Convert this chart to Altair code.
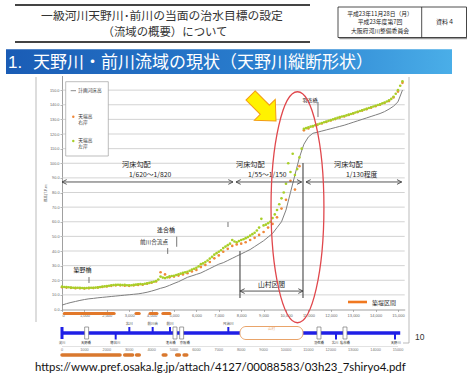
import altair as alt
import pandas as pd

JP = "Noto Sans CJK JP"
LAT = "Liberation Sans"

# ---------------- data ----------------
# survey stations, distance from the Yodo river confluence (m)
station_100m = list(range(0, 15201, 100))
station_200m = list(range(0, 15201, 200))

# 天端高 左岸 (levee crown, left bank)
left_bank_crown = [
    15.6, 15.4, 15.3, 15.2, 15.0, 14.9, 14.8, 14.9, 14.8, 14.7, 14.6,
    14.7, 14.8, 14.9, 14.8, 15.0, 15.1, 15.3, 15.6, 15.8, 16.0,
    16.2, 16.5, 16.7, 16.8, 16.9, 16.8, 16.7, 16.8, 16.6, 16.5,
    16.6, 16.8, 17.0, 17.2, 17.4, 17.3, 17.6, 17.9, 18.2, 18.6,
    19.0, 19.5, 20.5, 22.5, 21.8, 21.5, 22.0, 22.6, 22.9, 23.1,
    23.6, 24.0, 24.5, 25.0, 25.4, 25.8, 26.5, 27.3, 27.8, 28.5,
    29.5, 31.0, 31.5, 32.5, 33.5, 34.8, 36.0, 37.5, 38.5, 39.5,
    40.5, 42.0, 43.0, 44.0, 45.0, 47.5, 46.5, 46.0, 46.8, 47.5,
    48.0, 48.8, 49.5, 50.5, 51.5, 52.5, 54.0, 56.0, 62.0, 57.5,
    58.0, 59.0, 60.0, 62.5, 65.0, 68.0, 72.0, 76.0, 80.0, 86.0,
    100.0, 94.0, 106.5, 92.0, 96.0, 104.0, 110.0, 123.5, 124.0, 124.5,
    125.0, 125.5, 126.0, 126.5, 127.0, 127.5, 128.0, 128.5, 129.0, 129.5,
    130.0, 130.5, 131.0, 131.5, 132.0, 132.3, 132.7, 133.2, 133.7, 134.2,
    134.7, 135.2, 135.7, 136.2, 136.7, 137.2, 137.8, 138.3, 138.8, 139.3,
    139.8, 140.3, 140.9, 141.5, 142.2, 143.0, 144.0, 145.5, 147.5, 150.0,
    153.0, 156.0,
]

# 天端高 右岸 (levee crown, right bank)
right_bank_crown = [
    15.2, 15.0, 14.8, 14.6, 14.5, 14.4, 14.6, 14.7, 15.0, 15.4,
    15.8, 16.2, 16.5, 16.5, 16.3, 16.2, 16.5, 16.8, 17.0, 17.6,
    18.3, 19.2, 25.5, 24.0, 22.0, 22.5, 23.2, 24.0, 24.8, 26.0,
    27.0, 29.0, 30.5, 32.5, 35.0, 37.0, 39.5, 41.5, 43.5, 44.5,
    45.0, 46.0, 47.5, 49.0, 51.0, 53.0, 56.0, 58.5, 63.0, 69.0,
    75.0, 88.0, 82.0, 98.0, 122.5, 123.8, 125.2, 126.2, 127.2, 128.2,
    129.2, 130.2, 131.2, 132.0, 133.0, 134.0, 135.0, 136.0, 137.0, 138.0,
    139.0, 140.0, 141.2, 142.5, 145.0, 149.0, 155.0,
]

# 計画河床高 (planned river-bed elevation)
planned_bed = [
    3.0, 4.0, 4.8, 5.5, 6.2, 6.8, 7.3, 7.6, 8.0, 8.3,
    8.6, 8.9, 9.2, 9.5, 9.8, 10.1, 10.4, 10.7, 11.2, 11.8,
    12.6, 13.5, 14.5, 15.3, 16.5, 17.8, 19.0, 20.5, 22.0, 23.0,
    24.0, 25.0, 26.5, 28.0, 29.5, 31.0, 32.0, 33.5, 35.0, 36.5,
    38.0, 39.5, 41.0, 43.0, 45.0, 47.0, 49.5, 52.0, 56.0, 60.0,
    68.0, 80.0, 92.0, 104.0, 113.0, 118.0, 120.5, 121.2, 122.0, 122.8,
    123.6, 124.4, 125.2, 126.0, 127.0, 128.0, 129.0, 130.0, 131.0, 132.0,
    133.0, 134.0, 135.3, 137.0, 139.0, 142.0, 150.0,
]

y_ticks = [0, 10, 20, 30, 40, 50, 60, 70, 80, 90, 100, 110, 120, 130, 140, 150]
x_ticks = [0, 1000, 2000, 3000, 4000, 5000, 6000, 7000, 8000, 9000,
           10000, 11000, 12000, 13000, 14000, 15000]

# 築堤区間 (levee sections) along the main axis and along the schematic
levee_main_from = [100, 3300, 3930, 4100, 4500]
levee_main_to = [2330, 3450, 4060, 4240, 4820]
levee_sub_from = [0, 2800, 3330, 4520, 5120, 5450]
levee_sub_to = [2590, 3150, 3450, 4640, 5240, 5570]

# 河床勾配 zones
zone_from = [0, 7768, 10893]
zone_to = [7634, 10700, 15165]
zone_title = ["河床勾配", "河床勾配", "河床勾配"]
zone_slope = ["1/620～1/820", "1/55～1/150", "1/130程度"]
zone_title_x = [2679, 7768, 12143]
zone_slope_x = [2991, 8304, 12679]
zone_title_elev = 98.8
zone_slope_elev = 92.0
zone_arrow_elev = 87.2

# 山村区間
sanson_from = [7946]
sanson_to = [10759]
sanson_line_top = [40.0, 100.2]
sanson_line_x = [7946, 10759]
sanson_line_bottom = 7.9
sanson_arrow_elev = 12.6
sanson_label_elev = 16.8

# landmarks
landmark_name = ["築野橋", "前川合流点", "逢合橋", "羽衣橋"]
landmark_x = [915, 4107, 4643, 11071]
landmark_elev = [27.0, 46.4, 54.4, 143.2]
landmark_size = [6.0, 5.6, 6.0, 5.0]
marker_x = [1205, 4719, 5121, 11429, 7411]
marker_lo = [18.1, 38.0, 42.9, 131.6, 56.4]
marker_hi = [22.2, 42.0, 49.8, 141.9, 59.8]

# highlight marks
ellipse_center = (10513, 69.9)
arrow_center = (8987, 137.6)

# schematic of the river
channel_from = [0]
channel_to = [15100]
trib_up_x = [3006, 4048, 4821, 7426]
trib_up_name = ["北川", "前川合", "前川", "尺治川"]
trib_down_x = [2397, 12232, 14866]
bridge_x = [1100, 5045, 5342, 11473, 12634]
lower_label_x = [0, 1070, 2380, 4850, 5480, 11470, 12190, 12630, 14900]
lower_label = ["淀川", "天野橋", "穂谷川", "逢合橋", "京阪橋", "羽衣橋", "北川", "私市橋", "天野川"]

title1 = "一級河川天野川･前川の当面の治水目標の設定"
title2 = "（流域の概要）について"
box_lines = ["平成23年11月28日（月）", "平成23年度第7回", "大阪府河川整備委員会"]
box_right = "資料４"
banner_num = "1."
banner_text = "天野川・前川流域の現状（天野川縦断形状）"
url_text = "https://www.pref.osaka.lg.jp/attach/4127/00088583/03h23_7shiryo4.pdf"
page_no = "10"

# ---------------- scales & axes ----------------
xs = alt.Scale(domain=[0, 15300], range=[62, 404.7], nice=False, zero=False)
ys = alt.Scale(domain=[0, 160], range=[309.5, 75.5], nice=False, zero=False)
x_axis = alt.Axis(values=x_ticks, title=None, labelFontSize=4, labelColor="#666",
                  labelFont=LAT, domainColor="#888", domainWidth=0.8, tickColor="#888",
                  tickSize=2, tickWidth=0.6, labelPadding=2, offset=-67.5, grid=False)
y_axis = alt.Axis(values=y_ticks, format=".1f", title="標高(T.P.m)", titleFont=JP,
                  titleFontSize=3.6, titleFontWeight="normal", titleColor="#666",
                  titlePadding=2, labelFontSize=3.8, labelColor="#666", labelFont=LAT,
                  domainColor="#888", domainWidth=0.8, tickColor="#888", tickSize=2,
                  tickWidth=0.6, labelPadding=1, offset=-62, grid=False)


def X(f):
    return alt.X(f"{f}:Q", scale=xs, axis=x_axis)


def Y(f):
    return alt.Y(f"{f}:Q", scale=ys, axis=y_axis)


ONE = pd.DataFrame({"k": [0]})


def ptext(t, x, y, size, color="#222", align="center", font=JP, weight="normal"):
    return alt.Chart(ONE).mark_text(text=t, fontSize=size, color=color, align=align,
                                    baseline="middle", font=font, fontWeight=weight
                                    ).encode(x=alt.value(x), y=alt.value(y))


def hline(x1, x2, y, color="#333", w=1.0, cap="butt"):
    return alt.Chart(ONE).mark_rule(color=color, strokeWidth=w, strokeCap=cap).encode(
        x=alt.value(x1), x2=alt.value(x2), y=alt.value(y))


def vline(x, y1, y2, color="#333", w=1.0):
    return alt.Chart(ONE).mark_rule(color=color, strokeWidth=w).encode(
        x=alt.value(x), y=alt.value(y1), y2=alt.value(y2))


def prect(x1, x2, y1, y2, fill="white", stroke="#333", w=0.8, **kw):
    return alt.Chart(ONE).mark_rect(fill=fill, stroke=stroke, strokeWidth=w, **kw).encode(
        x=alt.value(x1), x2=alt.value(x2), y=alt.value(y1), y2=alt.value(y2))


layers = []

# ---------------- slide header ----------------
layers += [
    hline(15, 310, 5, "#444", 1.8),
    hline(15, 310, 42, "#444", 1.8),
    ptext(title1, 162, 16, 11.8, "#333"),
    ptext(title2, 165, 33, 11.4, "#333"),
    prect(339.5, 468, 8.5, 39, fill="#9a9a9a", stroke="#9a9a9a", w=0.5),
    prect(338, 466.5, 7, 37.5, fill="white", stroke="#222", w=0.8),
    vline(421.7, 7, 37.5, "#222", 0.8),
    ptext(box_lines[0], 380, 14.2, 5.8, "#222"),
    ptext(box_lines[1], 380, 22.4, 5.8, "#222"),
    ptext(box_lines[2], 380, 30.6, 5.8, "#222"),
    ptext(box_right, 445, 22.4, 6, "#222"),
]

grad = alt.LinearGradient(
    gradient="linear", x1=0, x2=1, y1=0, y2=0,
    stops=[alt.GradientStop(color="#1a5cb5", offset=0),
           alt.GradientStop(color="#2a7fcf", offset=0.6),
           alt.GradientStop(color="#4aaee8", offset=1)])
layers += [
    alt.Chart(ONE).mark_rect(fill=grad).encode(
        x=alt.value(6), x2=alt.value(452), y=alt.value(49.3), y2=alt.value(74)),
    ptext(banner_num, 8, 62.5, 17, "white", align="left", font=LAT),
    ptext(banner_text, 33, 62.5, 17, "white", align="left"),
]

# outer frame of the figure
layers += [
    vline(36, 77, 322, "#aaa", 0.8),
    vline(409, 77, 343, "#aaa", 0.8),
    hline(403, 409, 343, "#aaa", 0.8),
]

# ---------------- main profile chart ----------------
grid_df = pd.DataFrame({"g": y_ticks[1:]})
layers.append(alt.Chart(grid_df).mark_rule(color="#c8c8c8", strokeWidth=0.8).encode(
    y=Y("g"), x=alt.value(62), x2=alt.value(404.7)))

bed_df = pd.DataFrame({"station": station_200m, "bed": planned_bed})
right_df = pd.DataFrame({"station": station_200m, "crown": right_bank_crown})
left_df = pd.DataFrame({"station": station_100m, "crown": left_bank_crown})

layers += [
    alt.Chart(bed_df).mark_line(color="#7f7f7f", strokeWidth=1).encode(
        x=X("station"), y=Y("bed")),
    alt.Chart(right_df).mark_circle(size=7, color="#f0883a", opacity=1).encode(
        x=X("station"), y=Y("crown")),
    alt.Chart(left_df).mark_circle(size=7, color="#a8cf28", opacity=1).encode(
        x=X("station"), y=Y("crown")),
]

# legend box
layers += [
    prect(65.7, 108.3, 81.7, 156, fill="white", stroke="#a0a0a0", w=0.7),
    hline(70.7, 76, 90.7, "#7f7f7f", 0.9),
    ptext("計画河床高", 78.3, 90.7, 4.7, "#333", align="left"),
    alt.Chart(ONE).mark_circle(size=6, color="#f0883a", opacity=1).encode(
        x=alt.value(73.3), y=alt.value(116.7)),
    ptext("天端高", 78.3, 116.7, 4.7, "#333", align="left"),
    ptext("右岸", 78.3, 122.7, 4.7, "#333", align="left"),
    alt.Chart(ONE).mark_circle(size=6, color="#a8cf28", opacity=1).encode(
        x=alt.value(73.3), y=alt.value(141)),
    ptext("天端高", 78.3, 141, 4.7, "#333", align="left"),
    ptext("左岸", 78.3, 147.3, 4.7, "#333", align="left"),
]

# gradient zones with double arrows
zone_df = pd.DataFrame({"from": zone_from, "to": zone_to, "title": zone_title,
                        "slope": zone_slope, "tx": zone_title_x, "sx": zone_slope_x,
                        "ty": [zone_title_elev] * 3, "sy": [zone_slope_elev] * 3,
                        "ay": [zone_arrow_elev] * 3})
left_tip = "M 2 -1 L 0 0 L 2 1"
right_tip = "M -2 -1 L 0 0 L -2 1"
layers += [
    alt.Chart(zone_df).mark_rule(color="#444", strokeWidth=0.9).encode(
        x=X("from"), x2=alt.X2("to"), y=Y("ay")),
    alt.Chart(zone_df).mark_point(shape=left_tip, size=22, filled=False, stroke="#444",
                                  strokeWidth=0.9, opacity=1).encode(x=X("from"), y=Y("ay")),
    alt.Chart(zone_df).mark_point(shape=right_tip, size=22, filled=False, stroke="#444",
                                  strokeWidth=0.9, opacity=1).encode(x=X("to"), y=Y("ay")),
    alt.Chart(zone_df).mark_text(fontSize=7.2, font=JP, color="#222", align="left",
                                 baseline="middle").encode(x=X("tx"), y=Y("ty"), text="title:N"),
    alt.Chart(zone_df).mark_text(fontSize=6.8, font=JP, color="#222", align="left",
                                 baseline="middle").encode(x=X("sx"), y=Y("sy"), text="slope:N"),
]

# 山村区間
sl_df = pd.DataFrame({"x": sanson_line_x, "top": sanson_line_top,
                      "bottom": [sanson_line_bottom] * 2})
sa_df = pd.DataFrame({"from": sanson_from, "to": sanson_to, "ay": [sanson_arrow_elev],
                      "mid": [(sanson_from[0] + sanson_to[0]) / 2], "ly": [sanson_label_elev],
                      "label": ["山村区間"]})
layers += [
    alt.Chart(sl_df).mark_rule(color="#555", strokeWidth=1.2).encode(
        x=X("x"), y=Y("top"), y2=alt.Y2("bottom")),
    alt.Chart(sa_df).mark_rule(color="#444", strokeWidth=0.9).encode(
        x=X("from"), x2=alt.X2("to"), y=Y("ay")),
    alt.Chart(sa_df).mark_point(shape=left_tip, size=22, filled=False, stroke="#444",
                                strokeWidth=0.9, opacity=1).encode(x=X("from"), y=Y("ay")),
    alt.Chart(sa_df).mark_point(shape=right_tip, size=22, filled=False, stroke="#444",
                                strokeWidth=0.9, opacity=1).encode(x=X("to"), y=Y("ay")),
    alt.Chart(sa_df).mark_text(fontSize=6.8, font=JP, color="#222", baseline="middle").encode(
        x=X("mid"), y=Y("ly"), text="label:N"),
]

# landmarks
lm_df = pd.DataFrame({"name": landmark_name, "x": landmark_x, "y": landmark_elev,
                      "s": landmark_size})
mk_df = pd.DataFrame({"x": marker_x, "lo": marker_lo, "hi": marker_hi})
layers += [
    alt.Chart(mk_df).mark_rule(color="#666", strokeWidth=0.9).encode(
        x=X("x"), y=Y("lo"), y2=alt.Y2("hi")),
    alt.Chart(lm_df).mark_text(font=JP, color="#222", baseline="middle").encode(
        x=X("x"), y=Y("y"), text="name:N",
        size=alt.Size("s:Q", scale=None, legend=None)),
]

# levee sections on the main axis + legend
lv_df = pd.DataFrame({"from": levee_main_from, "to": levee_main_to})
layers += [
    alt.Chart(lv_df).mark_rule(color="#e2782a", strokeWidth=3, strokeCap="round").encode(
        x=X("from"), x2=alt.X2("to"), y=alt.value(313.5)),
    hline(348, 367, 302, "#f07820", 2.6),
    ptext("築堤区間", 372, 302.5, 6, "#333", align="left"),
]

# highlight ellipse and arrow
ell_path = ("M 0.229 0 C 0.229 0.5523 0.1265 1 0 1 C -0.1265 1 -0.229 0.5523 -0.229 0 "
            "C -0.229 -0.5523 -0.1265 -1 0 -1 C 0.1265 -1 0.229 -0.5523 0.229 0 Z")
arrow_path = "M -1 -0.36 L 0.12 -0.36 L 0.12 -0.82 L 1 0 L 0.12 0.82 L 0.12 0.36 L -1 0.36 Z"
hl_df = pd.DataFrame({"x": [ellipse_center[0]], "y": [ellipse_center[1]]})
ar_df = pd.DataFrame({"x": [arrow_center[0]], "y": [arrow_center[1]]})
layers += [
    alt.Chart(hl_df).mark_point(shape=ell_path, size=53361, filled=False, stroke="#e0474c",
                                strokeWidth=1.3, opacity=1).encode(x=X("x"), y=Y("y")),
    alt.Chart(ar_df).mark_point(shape=arrow_path, size=1296, angle=45, filled=True,
                                fill="#fff200", stroke="#f39c12", strokeWidth=1,
                                opacity=1).encode(x=X("x"), y=Y("y")),
]

# ---------------- river schematic ----------------
BLUE = "#1f1fe6"
ch_df = pd.DataFrame({"from": channel_from, "to": channel_to})
tu_df = pd.DataFrame({"x": trib_up_x, "name": trib_up_name})
td_df = pd.DataFrame({"x": trib_down_x})
br_df = pd.DataFrame({"x": bridge_x})
ll_df = pd.DataFrame({"x": lower_label_x, "name": lower_label})
xt_df = pd.DataFrame({"v": x_ticks, "label": [str(v) for v in x_ticks]})
ls_df = pd.DataFrame({"from": levee_sub_from, "to": levee_sub_to})
mt_df = pd.DataFrame({"from": sanson_from, "to": sanson_to,
                      "mid": [(sanson_from[0] + sanson_to[0]) / 2]})
bridge_path = "M -0.33 -1 L 0.33 -1 L 0.33 1 L -0.33 1 Z"

layers += [
    alt.Chart(ch_df).mark_rule(color=BLUE, strokeWidth=3.5).encode(
        x=X("from"), x2=alt.X2("to"), y=alt.value(333)),
    alt.Chart(ch_df).mark_rule(color=BLUE, strokeWidth=3).encode(
        x=X("from"), y=alt.value(327), y2=alt.value(339)),
    alt.Chart(tu_df).mark_rule(color=BLUE, strokeWidth=2).encode(
        x=X("x"), y=alt.value(327), y2=alt.value(333)),
    alt.Chart(td_df).mark_rule(color=BLUE, strokeWidth=2).encode(
        x=X("x"), y=alt.value(333), y2=alt.value(339.5)),
    alt.Chart(mt_df).mark_rect(fill="white", stroke="#e9a46a", strokeWidth=1,
                               cornerRadius=6).encode(
        x=X("from"), x2=alt.X2("to"), y=alt.value(326.5), y2=alt.value(339.5)),
    alt.Chart(mt_df).mark_text(text="山村", fontSize=3.6, font=JP, color="#e9a46a").encode(
        x=X("mid"), y=alt.value(329)),
    alt.Chart(br_df).mark_point(shape=bridge_path, size=144, filled=True, fill="white",
                                stroke="#777", strokeWidth=0.7, opacity=1).encode(
        x=X("x"), y=alt.value(333)),
    alt.Chart(tu_df).mark_text(fontSize=3.5, font=JP, color="#333").encode(
        x=X("x"), y=alt.value(324), text="name:N"),
    alt.Chart(ll_df).mark_text(fontSize=3.3, font=JP, color="#333").encode(
        x=X("x"), y=alt.value(342.6), text="name:N"),
    hline(62, 398, 346.5, "#cfcfcf", 0.6),
    alt.Chart(xt_df).mark_text(fontSize=3.8, font=LAT, color="#777").encode(
        x=X("v"), y=alt.value(349.5), text="label:N"),
    alt.Chart(ls_df).mark_rule(color="#d9782e", strokeWidth=3.5, strokeCap="round").encode(
        x=X("from"), x2=alt.X2("to"), y=alt.value(355)),
]

# ---------------- footer ----------------
layers += [
    ptext(page_no, 415, 336.5, 8.5, "#333", align="left", font=LAT),
    ptext(url_text, 35, 367.5, 11.4, "#111", align="left", font="Lato"),
]

chart = alt.layer(*layers).properties(
    width=467, height=377, autosize=alt.AutoSizeParams(type="none"), padding=0,
    background="white"
).configure_view(stroke=None)

chart.save("out.html", embed_options={"renderer": "svg", "actions": False})
